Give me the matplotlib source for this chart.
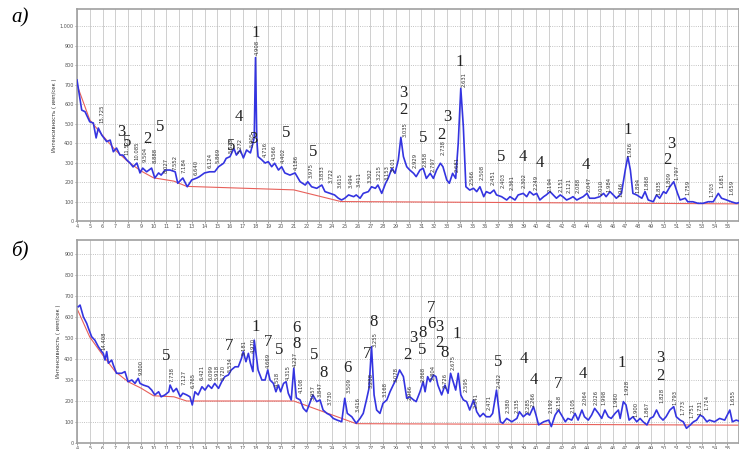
import matplotlib
matplotlib.use("Agg")
import matplotlib.pyplot as plt
from matplotlib.ticker import MultipleLocator, FuncFormatter

# %% Data (2theta, intensity)
trace_a = [(4.0, 725), (4.37, 570), (4.63, 562), (5.0, 510), (5.28, 504), (5.5, 427), (5.67, 478),
           (5.94, 442), (6.33, 408), (6.6, 416), (6.85, 356), (7.1, 375), (7.37, 339), (7.6, 339),
           (7.9, 314), (8.16, 298), (8.4, 278), (8.7, 298), (8.94, 247), (9.15, 272), (9.46, 253),
           (9.85, 272), (10.1, 221), (10.4, 247), (10.6, 236), (10.9, 262), (11.3, 262), (11.7, 253),
           (11.9, 194), (12.3, 221), (12.65, 176), (13.0, 211), (13.4, 221), (13.6, 228), (14.0, 247),
           (14.4, 253), (14.8, 253), (15.1, 279), (15.5, 297), (15.7, 322), (16.0, 331), (16.3, 374),
           (16.5, 339), (16.8, 365), (17.05, 324), (17.3, 365), (17.6, 350), (17.8, 400), (17.9, 430),
           (18.0, 840), (18.1, 420), (18.2, 331), (18.5, 314), (18.75, 298), (19.0, 305), (19.27, 279),
           (19.5, 297), (19.8, 262), (20.05, 279), (20.3, 247), (20.7, 236), (21.1, 247), (21.5, 202),
           (21.9, 185), (22.1, 202), (22.4, 176), (22.8, 168), (23.2, 185), (23.45, 151), (23.85, 142),
           (24.2, 134), (24.5, 117), (24.75, 108), (25.0, 117), (25.3, 134), (25.7, 125), (25.9, 134),
           (26.2, 117), (26.45, 142), (26.85, 151), (27.1, 176), (27.4, 168), (27.6, 185), (27.9, 142),
           (28.2, 194), (28.4, 219), (28.7, 271), (28.94, 245), (29.2, 314), (29.4, 430), (29.6, 331),
           (29.86, 279), (30.1, 262), (30.4, 245), (30.6, 228), (30.9, 262), (31.15, 271), (31.4, 219),
           (31.7, 245), (31.95, 219), (32.2, 262), (32.5, 297), (32.7, 279), (33.0, 211), (33.2, 194),
           (33.46, 245), (33.7, 219), (33.9, 400), (34.1, 682), (34.3, 485), (34.5, 176), (34.8, 159),
           (35.1, 168), (35.35, 151), (35.6, 176), (35.9, 125), (36.1, 151), (36.4, 142), (36.7, 159),
           (36.9, 134), (37.3, 125), (37.7, 108), (37.96, 125), (38.35, 108), (38.6, 134), (39.0, 142),
           (39.27, 125), (39.5, 151), (39.8, 134), (40.05, 142), (40.3, 108), (40.6, 125), (40.8, 134),
           (41.1, 151), (41.35, 134), (41.6, 117), (41.9, 134), (42.1, 125), (42.4, 108), (42.7, 117),
           (42.9, 125), (43.2, 108), (43.45, 117), (43.7, 125), (44.0, 142), (44.2, 117), (44.6, 117),
           (45.0, 125), (45.3, 142), (45.5, 125), (45.8, 151), (46.06, 134), (46.3, 117), (46.7, 142),
           (47.0, 262), (47.2, 331), (47.4, 262), (47.6, 142), (47.9, 134), (48.3, 117), (48.55, 151),
           (48.8, 108), (49.2, 99), (49.45, 134), (49.7, 117), (50.0, 151), (50.2, 142), (50.5, 176),
           (50.8, 202), (51.1, 142), (51.3, 108), (51.7, 117), (51.9, 99), (52.3, 99), (52.7, 91),
           (53.1, 91), (53.5, 99), (53.9, 99), (54.3, 142), (54.55, 117), (54.95, 108), (55.3, 99),
           (55.7, 91), (55.9, 94)]

trace_b = [(4.1, 649), (4.24, 657), (4.5, 601), (4.76, 570), (4.9, 546), (5.15, 506), (5.4, 490),
           (5.67, 459), (5.94, 435), (6.06, 427), (6.2, 395), (6.33, 435), (6.46, 380), (6.72, 395),
           (6.85, 371), (7.1, 332), (7.5, 332), (7.76, 340), (8.0, 292), (8.3, 300), (8.55, 284),
           (8.8, 308), (8.94, 284), (9.2, 276), (9.6, 268), (9.86, 252), (10.1, 229), (10.4, 244),
           (10.6, 220), (10.9, 229), (11.2, 244), (11.3, 276), (11.55, 244), (11.8, 260), (12.1, 220),
           (12.3, 237), (12.6, 229), (12.86, 220), (13.04, 181), (13.25, 244), (13.5, 229), (13.8, 268),
           (14.04, 252), (14.3, 276), (14.56, 260), (14.8, 284), (15.1, 260), (15.35, 292), (15.6, 316),
           (15.87, 324), (16.1, 348), (16.4, 363), (16.65, 363), (16.9, 403), (17.04, 435), (17.25, 387),
           (17.44, 427), (17.6, 380), (17.8, 340), (17.9, 490), (18.04, 427), (18.2, 348), (18.5, 300),
           (18.75, 300), (18.96, 348), (19.14, 300), (19.4, 284), (19.6, 244), (19.8, 276), (19.97, 244),
           (20.2, 284), (20.4, 292), (20.57, 237), (20.8, 205), (21.0, 356), (21.2, 215), (21.5, 205),
           (21.75, 165), (22.0, 149), (22.3, 197), (22.5, 229), (22.8, 197), (23.06, 205), (23.3, 157),
           (23.6, 141), (23.85, 133), (24.1, 117), (24.4, 109), (24.76, 101), (25.0, 213), (25.2, 141),
           (25.55, 125), (25.9, 94), (26.2, 117), (26.45, 141), (26.7, 205), (26.9, 260), (27.1, 459),
           (27.3, 229), (27.5, 157), (27.76, 141), (28.0, 189), (28.3, 205), (28.55, 244), (28.8, 276),
           (29.07, 308), (29.3, 348), (29.6, 316), (29.86, 213), (30.1, 220), (30.4, 205), (30.6, 197),
           (30.9, 244), (31.15, 292), (31.3, 244), (31.5, 316), (31.7, 292), (31.95, 324), (32.16, 316),
           (32.3, 276), (32.6, 229), (32.86, 276), (33.1, 237), (33.3, 332), (33.5, 292), (33.7, 252),
           (33.9, 332), (34.1, 229), (34.3, 205), (34.56, 197), (34.8, 157), (35.1, 205), (35.35, 149),
           (35.6, 125), (35.86, 141), (36.1, 125), (36.4, 125), (36.6, 141), (36.9, 252), (37.2, 101),
           (37.4, 94), (37.7, 117), (38.1, 101), (38.5, 117), (38.7, 149), (39.0, 125), (39.3, 141),
           (39.5, 133), (39.8, 173), (40.0, 133), (40.2, 86), (40.6, 101), (41.0, 109), (41.2, 78),
           (41.5, 133), (41.76, 157), (42.0, 133), (42.3, 101), (42.5, 117), (42.8, 109), (43.06, 141),
           (43.3, 109), (43.6, 157), (43.8, 125), (44.1, 109), (44.36, 133), (44.6, 165), (44.9, 141),
           (45.15, 117), (45.4, 157), (45.67, 125), (45.9, 117), (46.2, 141), (46.46, 157), (46.6, 117),
           (46.85, 197), (47.06, 181), (47.3, 109), (47.6, 125), (47.9, 101), (48.16, 117), (48.4, 101),
           (48.7, 86), (48.94, 117), (49.2, 125), (49.45, 157), (49.7, 125), (49.96, 109), (50.2, 125),
           (50.5, 157), (50.8, 173), (51.0, 125), (51.3, 109), (51.55, 101), (51.8, 70), (52.1, 86),
           (52.35, 101), (52.6, 109), (52.86, 133), (53.1, 125), (53.4, 101), (53.6, 109), (54.0, 101),
           (54.4, 117), (54.8, 109), (55.2, 157), (55.4, 101), (55.7, 109), (55.9, 105)]

# background lines (red)
base_a = [(4, 700), (5, 520), (6, 440), (7, 365), (8, 305), (9, 258), (10, 222), (11.6, 205),
          (12.6, 178), (21.0, 160), (24.7, 100), (56, 88)]
base_b = [(4, 640), (5, 505), (6, 420), (7, 340), (8, 292), (9, 262), (10, 225), (11.6, 220),
          (12.6, 200), (21.0, 200), (25.9, 92), (56, 85)]

# phase numbers (2theta, intensity, label)
phases_a = [(7.5, 459, "3"), (7.95, 408, "5"), (9.51, 422, "2"), (10.5, 485, "5"), (16.7, 533, "4"),
            (16.1, 386, "5"), (17.8, 420, "3"), (18.04, 965, "1"), (20.4, 454, "5"), (22.5, 356, "5"),
            (29.6, 657, "3"), (29.6, 571, "2"), (31.16, 428, "5"), (32.6, 442, "2"), (33.04, 536, "3"),
            (34.04, 819, "1"), (37.3, 331, "5"), (39.0, 327, "4"), (40.3, 300, "4"), (43.9, 288, "4"),
            (47.2, 468, "1"), (50.6, 394, "3"), (50.3, 314, "2")]
phases_b = [(10.96, 416, "5"), (15.95, 463, "7"), (18.0, 554, "1"), (18.96, 480, "7"), (19.87, 443, "5"),
            (21.2, 549, "6"), (21.2, 470, "8"), (22.6, 419, "5"), (23.3, 335, "8"), (25.2, 356, "6"),
            (27.24, 578, "8"), (26.77, 422, "7"), (29.9, 419, "2"), (30.4, 498, "3"), (31.1, 522, "8"),
            (31.1, 443, "5"), (31.8, 644, "7"), (31.8, 565, "6"), (32.4, 554, "3"), (32.4, 475, "2"),
            (32.86, 427, "8"), (33.8, 518, "1"), (37.04, 387, "5"), (39.06, 400, "4"), (39.84, 300, "4"),
            (41.75, 280, "7"), (43.66, 327, "4"), (46.72, 380, "1"), (49.78, 403, "3"), (49.78, 321, "2")]

# d-spacing labels (2theta, label base intensity, text)
dlab_a = [(5.94, 504, "15.725"), (7.9, 339, "11.525"), (8.68, 314, "10.085"), (9.33, 303, "9.504"),
          (10.1, 298, "8.888"), (11.0, 247, "8.027"), (11.7, 262, "7.552"), (12.4, 247, "7.184"),
          (13.33, 236, "6.640"), (14.43, 272, "6.124"), (15.06, 298, "5.869"), (16.05, 350, "5.523"),
          (16.8, 350, "5.272"), (17.7, 380, "5.005"), (18.1, 853, "4.908"), (18.8, 329, "4.716"),
          (19.45, 314, "4.566"), (20.16, 298, "4.402"), (21.2, 262, "4.186"), (22.4, 221, "3.975"),
          (23.2, 211, "3.833"), (23.9, 195, "3.722"), (24.6, 170, "3.615"), (25.47, 170, "3.494"),
          (26.1, 175, "3.411"), (27.0, 195, "3.302"), (27.7, 211, "3.215"), (28.3, 211, "3.153"),
          (28.76, 252, "3.101"), (29.73, 432, "3.035"), (30.5, 272, "2.929"), (31.3, 278, "2.858"),
          (31.95, 252, "2.797"), (32.7, 339, "2.738"), (33.8, 252, "2.681"), (34.4, 689, "2.631"),
          (34.96, 185, "2.566"), (35.8, 211, "2.508"), (36.65, 185, "2.451"), (37.4, 170, "2.403"),
          (38.1, 159, "2.361"), (39.1, 170, "2.302"), (40.05, 159, "2.249"), (41.1, 149, "2.194"),
          (41.96, 149, "2.151"), (42.6, 144, "2.121"), (43.3, 144, "2.088"), (44.2, 149, "2.047"),
          (45.07, 134, "2.010"), (45.7, 149, "1.984"), (46.64, 123, "1.946"), (47.4, 329, "1.926"),
          (48.0, 144, "1.894"), (48.7, 159, "1.868"), (49.65, 134, "1.835"), (50.4, 175, "1.809"),
          (51.04, 211, "1.797"), (51.95, 134, "1.759"), (53.8, 123, "1.703"), (54.56, 170, "1.681"),
          (55.35, 134, "1.659")]
dlab_b = [(6.14, 443, "14.408"), (9.02, 324, "9.800"), (11.43, 292, "7.738"), (12.4, 276, "7.127"),
          (13.07, 260, "6.765"), (13.78, 300, "6.421"), (14.51, 300, "6.099"), (14.96, 300, "5.918"),
          (15.48, 300, "5.720"), (16.0, 340, "5.534"), (17.1, 419, "5.181"), (17.83, 427, "4.970"),
          (19.0, 356, "4.669"), (19.7, 268, "4.518"), (20.57, 300, "4.315"), (21.1, 363, "4.227"),
          (21.6, 237, "4.108"), (22.5, 205, "3.957"), (23.1, 221, "3.847"), (23.84, 181, "3.730"),
          (25.36, 237, "3.509"), (26.07, 149, "3.416"), (27.1, 260, "3.288"), (27.4, 459, "3.255"),
          (28.16, 221, "3.168"), (29.0, 292, "3.078"), (30.1, 205, "2.966"), (31.16, 292, "2.868"),
          (31.9, 300, "2.804"), (32.86, 260, "2.726"), (33.5, 348, "2.675"), (34.56, 244, "2.595"),
          (35.3, 165, "2.541"), (36.34, 157, "2.471"), (37.1, 260, "2.422"), (37.8, 141, "2.380"),
          (38.56, 141, "2.335"), (39.4, 141, "2.285"), (39.74, 173, "2.266"), (41.15, 141, "2.192"),
          (41.83, 157, "2.158"), (42.93, 141, "2.105"), (43.84, 181, "2.064"), (44.7, 181, "2.026"),
          (45.36, 181, "1.998"), (46.27, 173, "1.960"), (47.1, 229, "1.928"), (47.84, 125, "1.900"),
          (48.73, 125, "1.867"), (49.86, 189, "1.828"), (50.9, 181, "1.793"), (51.5, 133, "1.773"),
          (52.2, 117, "1.751"), (52.86, 133, "1.731"), (53.43, 157, "1.714"), (55.47, 181, "1.655")]

# %% Plot
fig = plt.figure(figsize=(7.39, 4.49), dpi=100)
ax_a = fig.add_axes([0.1042, 0.5078, 0.8958, 0.4722])
ax_b = fig.add_axes([0.1042, 0.0134, 0.8958, 0.4521])

panels = [(ax_a, trace_a, base_a, phases_a, dlab_a, 1090, 1000, "а)", 0.96),
          (ax_b, trace_b, base_b, phases_b, dlab_b, 967, 900, "б)", 0.44)]

for ax, trace, base, phases, dlab, ytop, ymax_tick, tag, tag_y in panels:
    tx, ty = zip(*trace)
    bx, by = zip(*base)
    ax.plot(bx, by, color="#e8605a", lw=0.8, zorder=2)
    ax.plot(tx, ty, color="#3434e0", lw=1.2, zorder=3)
    ax.set_xlim(4, 55.92)
    ax.set_ylim(0, ytop)
    ax.xaxis.set_major_locator(MultipleLocator(1))
    ax.set_yticks(range(0, ymax_tick + 1, 100))
    ax.yaxis.set_major_formatter(FuncFormatter(lambda v, p: f"{int(v):,}".replace(",", ".")))
    ax.grid(axis="x", color="#c8c8c8", lw=0.6, ls="-")
    ax.grid(axis="y", color="#b0b0b0", lw=0.6, ls=":")
    ax.tick_params(labelsize=3.5, length=1.5, width=0.4, pad=1, colors="#555555")
    for s in ax.spines.values():
        s.set_color("#a0a0a0")
        s.set_linewidth(1.2)
    ax.set_ylabel("Интенсивность ( имп/сек )", fontsize=3.8, labelpad=2, color="#333333")
    for x, y, s in phases:
        ax.text(x, y, s, fontsize=12, family="Liberation Serif", ha="center", va="center",
                color="#222222", zorder=5)
    for x, y, s in dlab:
        ax.text(x, y, s, fontsize=3.8, rotation=90, ha="center", va="bottom",
                color="#333333", zorder=4)
    fig.text(0.027, tag_y, tag, fontsize=15, family="Liberation Serif", style="italic",
             ha="center", va="center")

fig.savefig("out.png", dpi=100)
